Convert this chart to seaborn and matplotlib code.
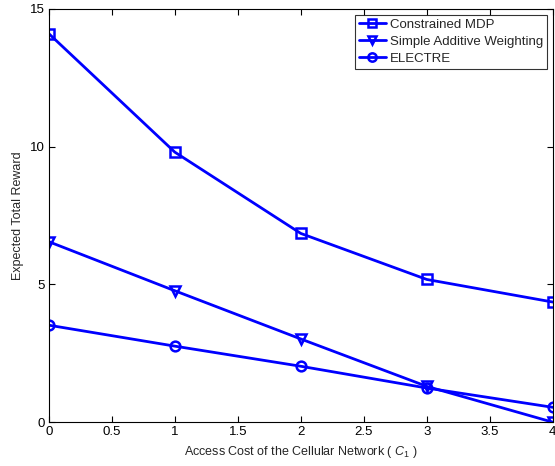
import numpy as np
import pandas as pd
import matplotlib
matplotlib.use("Agg")
import matplotlib.pyplot as plt
import seaborn as sns

# valores
access_cost = [0, 1, 2, 3, 4]
constrained_mdp = [14.1, 9.8, 6.85, 5.18, 4.36]
simple_additive = [6.55, 4.77, 3.02, 1.3, 0.0]
electre = [3.52, 2.76, 2.03, 1.24, 0.54]
series_names = ["Constrained MDP", "Simple Additive Weighting", "ELECTRE"]

df = pd.DataFrame({
    "cost": access_cost * 3,
    "reward": constrained_mdp + simple_additive + electre,
    "method": [n for n in series_names for _ in access_cost],
})

sns.set_theme(style="ticks")
plt.rcParams["font.family"] = ["Liberation Sans", "DejaVu Sans"]
plt.rcParams["mathtext.fontset"] = "custom"
plt.rcParams["mathtext.it"] = "Liberation Sans:italic"
plt.rcParams["mathtext.rm"] = "Liberation Sans"

fig = plt.figure(figsize=(5.55, 4.66), dpi=100)
ax = fig.add_axes([0.088, 0.094, 0.908, 0.887])

sns.lineplot(data=df, x="cost", y="reward", hue="method", style="method",
             markers=["s", "v", "o"], dashes=False,
             palette=["#0000ff"] * 3, linewidth=2, markersize=7,
             markerfacecolor="none", markeredgecolor="#0000ff", markeredgewidth=1.8,
             ax=ax, legend=False)

for name, m in zip(series_names, ["s", "v", "o"]):
    ax.plot([], [], color="#0000ff", lw=2, marker=m, ms=6, mfc="none",
            mec="#0000ff", mew=1.8, label=name)

ax.set_xlim(0, 4)
ax.set_ylim(0, 15)
ax.set_xticks(np.arange(0, 4.01, 0.5))
ax.set_xticklabels(["0", "0.5", "1", "1.5", "2", "2.5", "3", "3.5", "4"])
ax.set_yticks([0, 5, 10, 15])
ax.tick_params(direction="in", length=4, width=0.8, labelsize=9.5,
               top=True, right=True, colors="black", pad=3)
for s in ax.spines.values():
    s.set_visible(True)
    s.set_linewidth(0.8)
    s.set_color("black")

ax.set_xlabel("Access Cost of the Cellular Network ( $\\mathit{C_1}$ )", fontsize=9, labelpad=4)
ax.set_ylabel("Expected Total Reward", fontsize=9, labelpad=4)

leg = ax.legend(loc="upper right", fontsize=9.5, frameon=True, fancybox=False,
                edgecolor="black", handlelength=2.0, handletextpad=0.3,
                borderpad=0.3, labelspacing=0.35, borderaxespad=0.45)
leg.get_frame().set_linewidth(0.8)

fig.savefig("out.png", dpi=100)
